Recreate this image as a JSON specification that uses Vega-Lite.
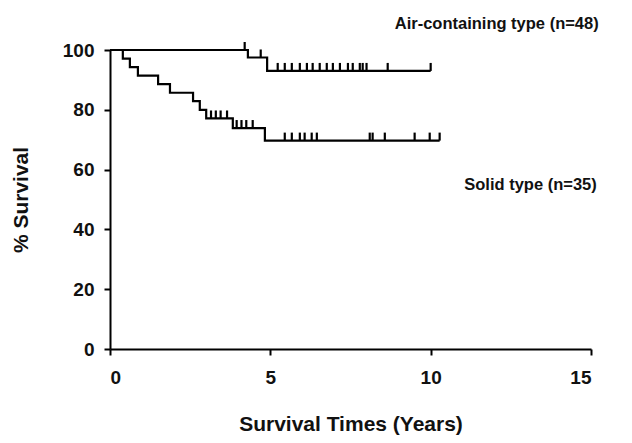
{
  "$schema": "https://vega.github.io/schema/vega-lite/v6.json",
  "width": 481,
  "height": 299,
  "autosize": "none",
  "padding": {"left": 110, "top": 50, "right": 41, "bottom": 94},
  "background": "white",
  "config": {
    "view": {"stroke": null},
    "font": "Liberation Sans",
    "axis": {
      "grid": false,
      "domainColor": "black",
      "domainWidth": 2,
      "tickColor": "black",
      "tickWidth": 2,
      "tickSize": 6,
      "labelFont": "Liberation Sans",
      "labelFontWeight": "bold",
      "labelFontSize": 19,
      "labelColor": "#111",
      "titleFont": "Liberation Sans",
      "titleFontWeight": "bold",
      "titleFontSize": 21,
      "titleColor": "#111"
    }
  },
  "datasets": {
    "curves": [
      {"group": "Air-containing", "time": 0, "surv": 100},
      {"group": "Air-containing", "time": 4.3, "surv": 97.5},
      {"group": "Air-containing", "time": 4.9, "surv": 93},
      {"group": "Air-containing", "time": 10.0, "surv": 93},
      {"group": "Solid", "time": 0, "surv": 100},
      {"group": "Solid", "time": 0.4, "surv": 97.1},
      {"group": "Solid", "time": 0.62, "surv": 94.3},
      {"group": "Solid", "time": 0.87, "surv": 91.4},
      {"group": "Solid", "time": 1.5, "surv": 88.6},
      {"group": "Solid", "time": 1.87, "surv": 85.7},
      {"group": "Solid", "time": 2.59, "surv": 82.9},
      {"group": "Solid", "time": 2.8, "surv": 80.0},
      {"group": "Solid", "time": 3.0, "surv": 77.1},
      {"group": "Solid", "time": 3.83, "surv": 73.9},
      {"group": "Solid", "time": 4.83, "surv": 69.7},
      {"group": "Solid", "time": 10.28, "surv": 69.7}
    ],
    "censor": [
      {"group": "Air-containing", "time": 4.2, "surv": 100},
      {"group": "Air-containing", "time": 4.7, "surv": 97.5},
      {"group": "Air-containing", "time": 5.23, "surv": 93},
      {"group": "Air-containing", "time": 5.45, "surv": 93},
      {"group": "Air-containing", "time": 5.67, "surv": 93},
      {"group": "Air-containing", "time": 5.92, "surv": 93},
      {"group": "Air-containing", "time": 6.14, "surv": 93},
      {"group": "Air-containing", "time": 6.32, "surv": 93},
      {"group": "Air-containing", "time": 6.54, "surv": 93},
      {"group": "Air-containing", "time": 6.76, "surv": 93},
      {"group": "Air-containing", "time": 6.95, "surv": 93},
      {"group": "Air-containing", "time": 7.17, "surv": 93},
      {"group": "Air-containing", "time": 7.42, "surv": 93},
      {"group": "Air-containing", "time": 7.57, "surv": 93},
      {"group": "Air-containing", "time": 7.79, "surv": 93},
      {"group": "Air-containing", "time": 7.88, "surv": 93},
      {"group": "Air-containing", "time": 8.0, "surv": 93},
      {"group": "Air-containing", "time": 8.66, "surv": 93},
      {"group": "Air-containing", "time": 10.0, "surv": 93},
      {"group": "Solid", "time": 3.15, "surv": 77.1},
      {"group": "Solid", "time": 3.3, "surv": 77.1},
      {"group": "Solid", "time": 3.45, "surv": 77.1},
      {"group": "Solid", "time": 3.65, "surv": 77.1},
      {"group": "Solid", "time": 3.95, "surv": 73.9},
      {"group": "Solid", "time": 4.1, "surv": 73.9},
      {"group": "Solid", "time": 4.25, "surv": 73.9},
      {"group": "Solid", "time": 4.45, "surv": 73.9},
      {"group": "Solid", "time": 5.45, "surv": 69.7},
      {"group": "Solid", "time": 5.67, "surv": 69.7},
      {"group": "Solid", "time": 5.92, "surv": 69.7},
      {"group": "Solid", "time": 6.07, "surv": 69.7},
      {"group": "Solid", "time": 6.29, "surv": 69.7},
      {"group": "Solid", "time": 6.45, "surv": 69.7},
      {"group": "Solid", "time": 8.1, "surv": 69.7},
      {"group": "Solid", "time": 8.19, "surv": 69.7},
      {"group": "Solid", "time": 8.57, "surv": 69.7},
      {"group": "Solid", "time": 9.5, "surv": 69.7},
      {"group": "Solid", "time": 9.97, "surv": 69.7},
      {"group": "Solid", "time": 10.28, "surv": 69.7}
    ],
    "labels": [
      {"label": "Air-containing type (n=48)", "time": 15.24, "surv": 108.7},
      {"label": "Solid type (n=35)", "time": 15.18, "surv": 54.7}
    ]
  },
  "layer": [
    {
      "data": {"name": "curves"},
      "mark": {"type": "line", "interpolate": "step-after", "color": "black", "strokeWidth": 2.2},
      "encoding": {
        "x": {
          "field": "time", "type": "quantitative",
          "scale": {"domain": [0, 15], "nice": false},
          "axis": {"values": [0, 5, 10, 15], "title": "Survival Times (Years)", "labelPadding": 13, "titlePadding": 26}
        },
        "y": {
          "field": "surv", "type": "quantitative",
          "scale": {"domain": [0, 100], "nice": false},
          "axis": {"values": [0, 20, 40, 60, 80, 100], "title": "% Survival", "labelPadding": 10, "titlePadding": 31}
        },
        "detail": {"field": "group"}
      }
    },
    {
      "data": {"name": "censor"},
      "mark": {"type": "tick", "orient": "vertical", "size": 8, "thickness": 2.2, "yOffset": -4, "color": "black", "opacity": 1},
      "encoding": {
        "x": {"field": "time", "type": "quantitative"},
        "y": {"field": "surv", "type": "quantitative"}
      }
    },
    {
      "data": {"name": "labels"},
      "mark": {"type": "text", "align": "right", "baseline": "middle", "font": "Liberation Sans", "fontWeight": "bold", "fontSize": 16.5, "color": "#111"},
      "encoding": {
        "x": {"field": "time", "type": "quantitative"},
        "y": {"field": "surv", "type": "quantitative"},
        "text": {"field": "label"}
      }
    }
  ]
}
